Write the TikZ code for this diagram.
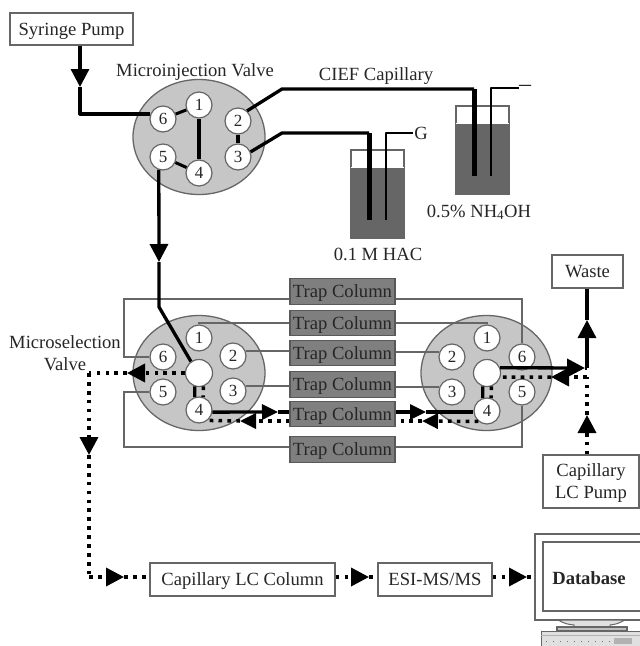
\documentclass[tikz,border=0pt]{standalone}
\usepackage{fontspec}
\setmainfont{Liberation Serif}
\usepackage{tikz}
\usetikzlibrary{arrows.meta}
\usetikzlibrary{shapes.geometric}
\definecolor{edgegray}{HTML}{666666}
\definecolor{valvegray}{HTML}{C6C6C6}
\definecolor{trapgray}{HTML}{7F7F7F}
\definecolor{liquidgray}{HTML}{666666}
\tikzset{
	every node/.style={font=\fontsize{18.6}{22}\selectfont,text=black!85,align=center,text depth=0pt},
	box/.style={draw=edgegray,line width=1.3pt,fill=white,inner sep=0pt},
	valve/.style={ellipse,draw=edgegray,line width=1.3pt,fill=valvegray,minimum width=132pt,minimum height=115pt,inner sep=0pt},
	port/.style={circle,draw=edgegray,line width=1.2pt,fill=white,minimum size=26pt,inner sep=0pt,font=\fontsize{17}{17}\selectfont},
	trap/.style={draw=black!65,line width=1.2pt,fill=trapgray,minimum width=105pt,minimum height=25.5pt,inner sep=0pt},
	beaker/.style={draw=edgegray,line width=1.3pt},
	wire/.style={edgegray,line width=1.3pt},
	flow/.style={black,line width=3.3pt,line join=round},
	dotflow/.style={flow,line width=3.5pt,dash pattern=on 3.7pt off 5.2pt},
	head/.style={-{Triangle[length=18pt,width=18pt]}},
	smallhead/.style={-{Triangle[length=16pt,width=15pt]}}
}
\begin{document}
\begin{tikzpicture}[x=1pt,y=-1pt]
\useasboundingbox (0,0) rectangle (640,646);
\fill[white] (0,0) rectangle (640,646);

\node[box,minimum width=123pt,minimum height=32pt] (syringe) at (71.5,29) {Syringe Pump};
\node (injlabel) at (195,70) {Microinjection Valve};
\node (ciefl) at (376,74) {CIEF Capillary};
\node[inner sep=0pt,font=\fontsize{24}{24}\selectfont] (minus) at (525,88) {--};
\node[inner sep=1pt] (gnd) at (421,133) {G};
\node (hac) at (378,254) {0.1 M HAC};
\node (nh) at (479,211) {0.5\% NH\textsubscript{4}OH};
\node (sellabel) at (65,353) {Microselection\\Valve};

\node[valve] (injvalve) at (199,137) {};
\node[port] (ione) at (199,105) {1};
\node[port] (itwo) at (238,121) {2};
\node[port] (ithree) at (238,157) {3};
\node[port] (ifour) at (199,173) {4};
\node[port] (ifive) at (163,157) {5};
\node[port] (isix) at (163,119) {6};

\fill[white] (351,150) rectangle (404,167);
\fill[liquidgray] (351,167) rectangle (404,238);
\draw[beaker] (351,150) rectangle (404,238);
\draw[white,line width=1pt] (351,167) -- (404,167);
\fill[liquidgray] (456,123) rectangle (509,194);
\draw[beaker] (456,106) rectangle (509,194);
\draw[white,line width=1pt] (456,123) -- (509,123);

\coordinate (synk) at (80,87);
\coordinate (hacup) at (282,133);
\coordinate (nhup) at (282,89);
\coordinate (hactube) at (369,133);
\coordinate (nhtube) at (474,89);
\draw[flow,head] (syringe.south -| synk) -- (synk);
\draw[flow] (synk) |- (isix.158);
\draw[flow,line width=3pt] (isix) -- (ione);
\draw[flow,line width=3.6pt] (ione) -- (ifour);
\draw[flow,line width=3pt] (ifive) -- (ifour);
\draw[flow,line width=3.6pt] (itwo) -- (ithree);
\draw[flow] (itwo.48) -- (nhup) -- (nhtube);
\draw[flow] (ithree.22) -- (hacup) -- (hactube);
\draw[flow,line width=5pt] (nhtube) -- (474,176);
\draw[flow,line width=5pt] (hactube) -- (369,220);
\draw[black,line width=2.2pt,line join=round] (386,220) |- (gnd.west);
\draw[black,line width=2.2pt,line join=round] (491,176) |- (minus.west);

\node[trap] (trapa) at (342.5,291.5) {Trap Column};
\node[trap] (trapb) at (342.5,323) {Trap Column};
\node[trap] (trapc) at (342.5,353) {Trap Column};
\node[trap] (trapd) at (342.5,384.5) {Trap Column};
\node[trap] (trape) at (342.5,414) {Trap Column};
\node[trap] (trapf) at (342.5,449.5) {Trap Column};

\node[valve] (leftvalve) at (199,373) {};
\node[port] (lone) at (199,338) {1};
\node[port] (ltwo) at (233,356) {2};
\node[port] (lthree) at (233,391) {3};
\node[port] (lfour) at (199,410) {4};
\node[port] (lfive) at (163,392) {5};
\node[port] (lsix) at (163,357) {6};
\node[port,minimum size=27pt] (lcen) at (199,373) {};

\node[valve,minimum width=131pt] (rightvalve) at (486.5,373) {};
\node[port] (rone) at (487,338) {1};
\node[port] (rtwo) at (452,357) {2};
\node[port] (rthree) at (452,392) {3};
\node[port] (rfour) at (487,411) {4};
\node[port] (rfive) at (522,392) {5};
\node[port] (rsix) at (522,357) {6};
\node[port,minimum size=27pt] (rcen) at (487,373) {};

\draw[wire] (trapa.west |- 0,299) -- (124,299) |- (lsix.west);
\draw[wire] (trapb.west) -| (lone.north);
\draw[wire] (trapc.west |- ltwo.22) -- (ltwo.22);
\draw[wire] (trapd.west |- lthree.22) -- (lthree.22);
\draw[wire] (trapf.west |- 0,447) -- (124,447) |- (lfive.west);
\draw[wire] (trapa.east |- 0,299) -| (rsix.north);
\draw[wire] (trapb.east) -| (rone.north);
\draw[wire] (trapc.east |- rtwo.158) -- (rtwo.158);
\draw[wire] (trapd.east |- rthree.158) -- (rthree.158);
\draw[wire] (trapf.east |- 0,447) -| (rfive.south);

\node[box,minimum width=71pt,minimum height=33pt] (waste) at (587.5,271.5) {Waste};
\node[box,minimum width=96pt,minimum height=53pt] (lcpump) at (591,481.5) {Capillary\\LC Pump};
\node[box,minimum width=185pt,minimum height=33pt] (lccolumn) at (242.5,579.5) {Capillary LC Column};
\node[box,minimum width=114pt,minimum height=33pt] (esims) at (435,579.5) {ESI-MS/MS};

\coordinate (sdrop) at (159,262);
\coordinate (sbend) at (159,307);
\draw[flow,head] (ifive.-108) -- (sdrop);
\draw[flow] (sdrop) -- (sbend) -- (lcen.125);
\draw[flow] (lcen.-108) -- (lfour.108);
\draw[dotflow] (lcen.-72) -- (lfour.72);

\coordinate (ltipa) at (278,412);
\coordinate (ltipb) at (240,421);
\draw[flow,smallhead] (lfour.-9) -- (ltipa);
\draw[flow] (ltipa) -- (trape.west |- ltipa);
\draw[dotflow,smallhead] (trape.west |- ltipb) -- (ltipb);
\draw[dotflow] (ltipb) -- (lfour.-50);

\coordinate (rtipa) at (426,412);
\coordinate (rtipb) at (422,421);
\draw[flow,smallhead] (trape.east |- rtipa) -- (rtipa);
\draw[flow] (rtipa) -- (rfour.west |- rtipa);
\draw[dotflow,smallhead] (rfour.-130) -- (rtipb);
\draw[dotflow] (rtipb) -- (trape.east |- rtipb);

\draw[flow] (rcen.-108) -- (rfour.108);
\draw[dotflow] (rcen.-72) -- (rfour.72);

\coordinate (wtipa) at (585,368);
\coordinate (wbend) at (587,368);
\coordinate (wtipb) at (587,320);
\draw[flow,head] (rcen.22) -- (wtipa);
\draw[flow] (wtipa) -- (wbend);
\draw[flow,head] (wbend) -- (wtipb);
\draw[flow] (wtipb) -- (waste.south -| wtipb);

\coordinate (ptipa) at (587,415);
\coordinate (pbend) at (587,377);
\coordinate (ptipb) at (551,377);
\draw[dotflow,head] (lcpump.north -| ptipa) -- (ptipa);
\draw[dotflow] (ptipa) -- (pbend);
\draw[dotflow,head] (pbend) -- (ptipb);
\draw[dotflow] (ptipb) -- (rcen.-17);

\coordinate (dtipa) at (127,373);
\coordinate (dbenda) at (89,373);
\coordinate (dtipb) at (89,455);
\coordinate (dbendb) at (89,577);
\coordinate (dtipc) at (124,577);
\draw[dotflow,head] (lcen.west) -- (dtipa);
\draw[dotflow] (dtipa) -- (dbenda);
\draw[dotflow,head] (dbenda) -- (dtipb);
\draw[dotflow] (dtipb) -- (dbendb);
\draw[dotflow,head] (dbendb) -- (dtipc);
\draw[dotflow] (dtipc) -- (lccolumn.west |- dtipc);

\coordinate (etipa) at (369,577);
\coordinate (etipb) at (527,577);
\draw[dotflow,head] (lccolumn.east |- etipa) -- (etipa);
\draw[dotflow] (etipa) -- (esims.west |- etipa);
\draw[dotflow,head] (esims.east |- etipb) -- (etipb);
\draw[dotflow] (etipb) -- (534,577);

\draw[wire,fill=white] (535,534) rectangle (650,620);
\draw[wire,fill=white] (543,542) rectangle (650,611);
\node[font=\fontsize{18.6}{22}\selectfont\bfseries] (database) at (589,578) {Database};
\draw[wire,line width=1pt,fill=black!12] (558,620) .. controls (566,624) .. (574,625) -- (574,627) -- (610,627) -- (610,625) .. controls (617,624) .. (625,620) -- cycle;
\draw[wire,fill=black!25] (557,627) rectangle (627,631);
\fill[black!12] (541,631) rectangle (650,646);
\draw[wire,line width=0.8pt] (541,646) |- (650,631);
\draw[black!30,line width=1pt] (541,635) -- (650,635);
\draw[black!55,line width=1pt,dash pattern=on 1pt off 6pt] (546,641) -- (610,641);
\fill[black!30] (614,638) rectangle (632,644);
\end{tikzpicture}
\end{document}
